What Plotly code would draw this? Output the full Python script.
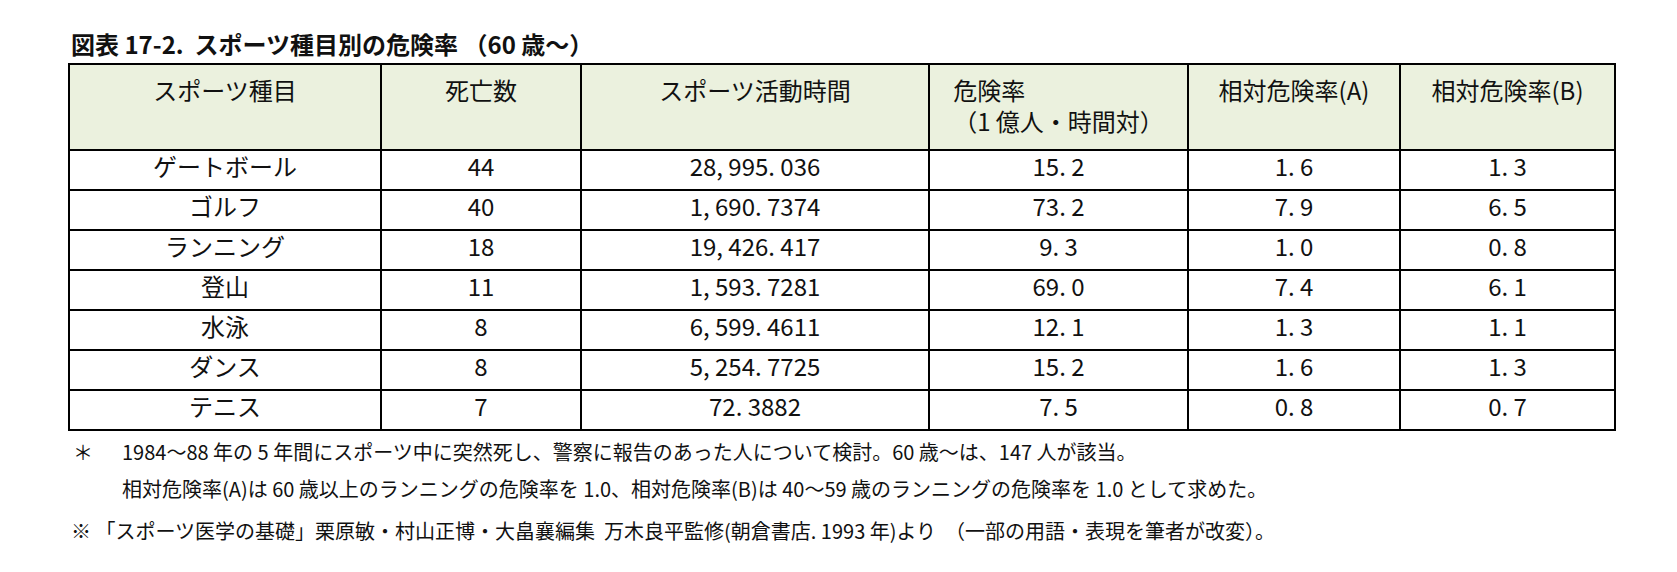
import plotly.graph_objects as go

# Table data
sports = ["ゲートボール", "ゴルフ", "ランニング", "登山", "水泳", "ダンス", "テニス"]
deaths = ["44", "40", "18", "11", "8", "8", "7"]
hours = ["28, 995. 036", "1, 690. 7374", "19, 426. 417", "1, 593. 7281",
         "6, 599. 4611", "5, 254. 7725", "72. 3882"]
risk = ["15. 2", "73. 2", "9. 3", "69. 0", "12. 1", "15. 2", "7. 5"]
rel_a = ["1. 6", "7. 9", "1. 0", "7. 4", "1. 3", "1. 6", "0. 8"]
rel_b = ["1. 3", "6. 5", "0. 8", "6. 1", "1. 1", "1. 3", "0. 7"]
headers = ["<br>スポーツ種目", "<br>死亡数", "<br>スポーツ活動時間", "危険率<br>（1 億人・時間対）",
           "<br>相対危険率(A)", "<br>相対危険率(B)"]

W, H = 1677, 572
FONT = "Noto Sans CJK JP"

fig = go.Figure(go.Table(
    domain=dict(x=[61 / W, 1607 / W], y=[1 - 424 / H, 1 - 56 / H]),
    columnwidth=[312, 200, 348, 259, 212, 215],
    header=dict(
        values=headers,
        fill_color="#EBF1DE",
        line=dict(color="black", width=2),
        font=dict(family=FONT, size=24, color="#111"),
        align="center",
        height=86,
    ),
    cells=dict(
        values=[sports, deaths, hours, risk, rel_a, rel_b],
        fill_color="white",
        line=dict(color="black", width=2),
        font=dict(family=FONT, size=24, color="#111"),
        align="center",
        height=40,
    ),
))

notes = [
    (61, 36, "<b>図表 17-2.  スポーツ種目別の危険率 （60 歳～）</b>", 24),
    (63, 443, "＊", 20),
    (112, 443, "1984～88 年の 5 年間にスポーツ中に突然死し、警察に報告のあった人について検討。60 歳～は、147 人が該当。", 20),
    (112, 480, "相対危険率(A)は 60 歳以上のランニングの危険率を 1.0、相対危険率(B)は 40～59 歳のランニングの危険率を 1.0 として求めた。", 20),
    (61, 522, "※ 「スポーツ医学の基礎」栗原敏・村山正博・大畠襄編集  万木良平監修(朝倉書店. 1993 年)より  （一部の用語・表現を筆者が改変）。", 20),
]
for x, y, t, s in notes:
    fig.add_annotation(x=x / W, y=1 - y / H, xref="paper", yref="paper",
                       xanchor="left", yanchor="middle", text=t, showarrow=False,
                       font=dict(family=FONT, size=s, color="#111"))

fig.update_layout(width=W, height=H, margin=dict(l=0, r=0, t=0, b=0),
                  paper_bgcolor="white")
fig.write_html("out.html")
